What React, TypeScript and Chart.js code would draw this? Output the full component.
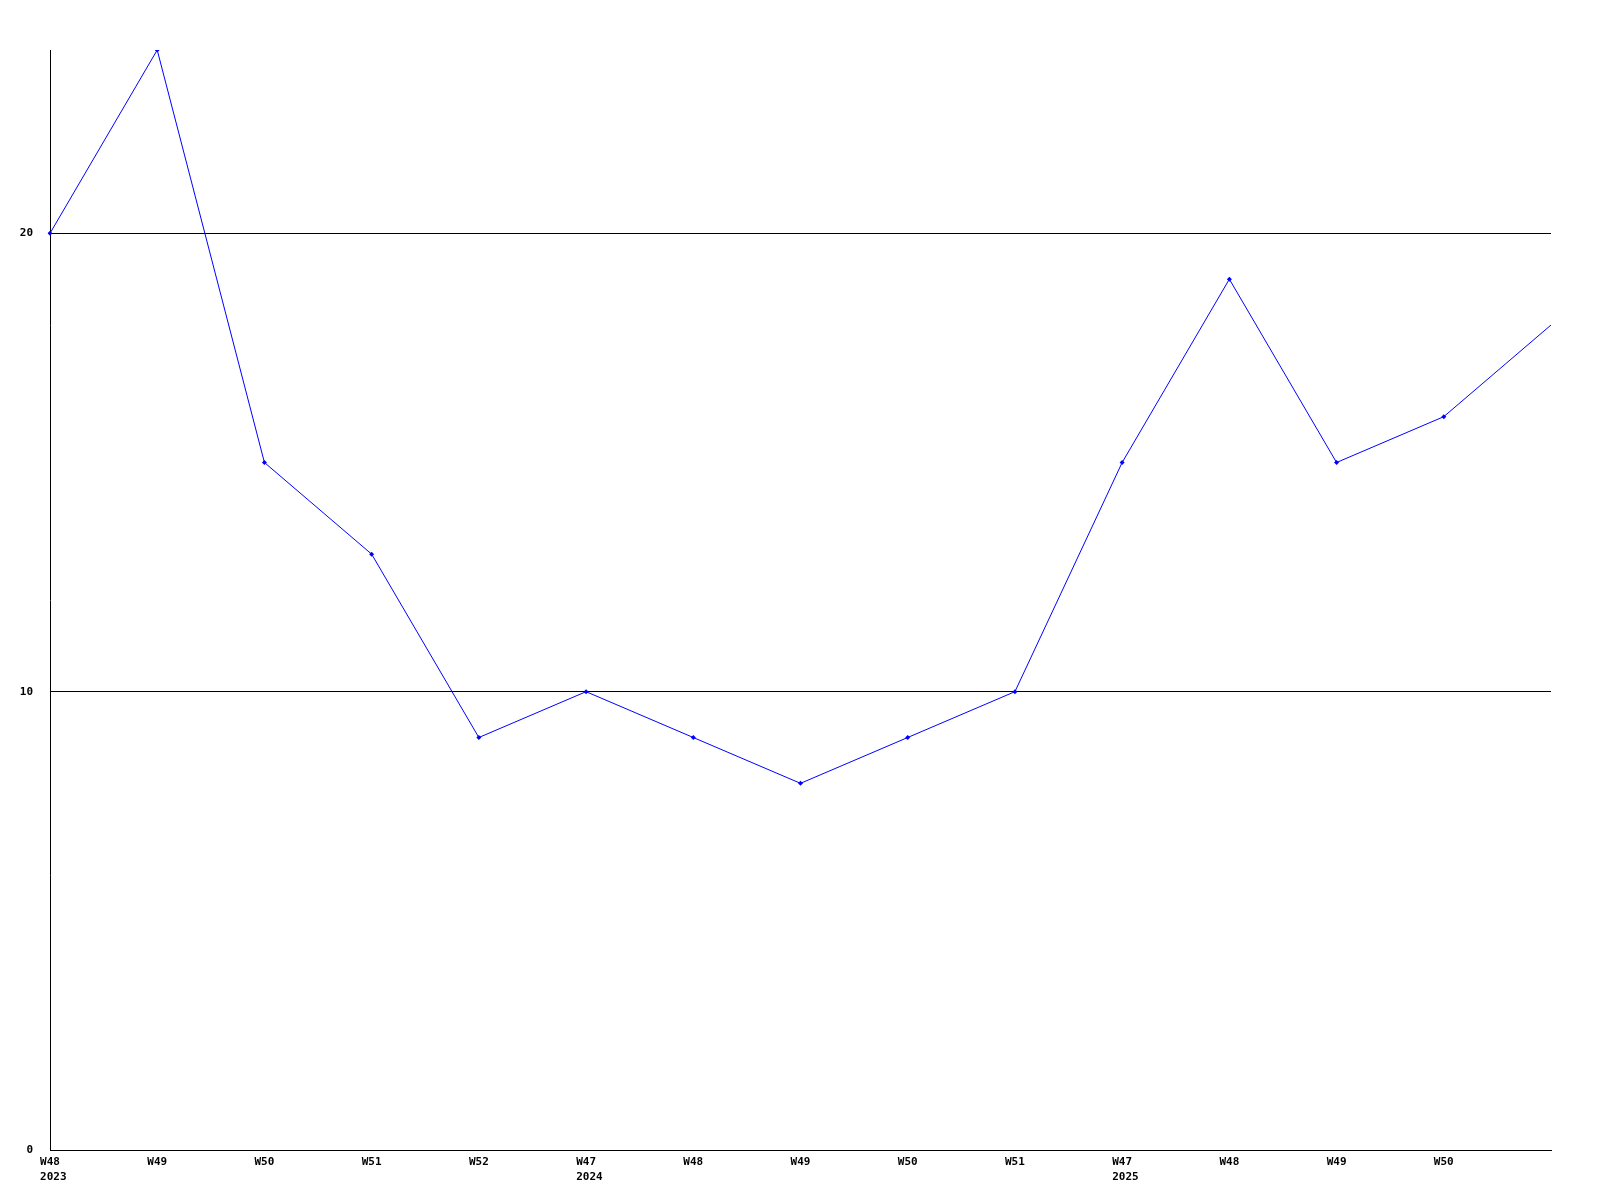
import React, { useEffect, useRef } from "react";
import { Chart, registerables } from "chart.js";

Chart.register(...registerables);

const weekLabels = ["W48", "W49", "W50", "W51", "W52", "W47", "W48", "W49", "W50", "W51", "W47", "W48", "W49", "W50", ""];
const yearLabels = ["2023", "", "", "", "", "2024", "", "", "", "", "2025", "", "", "", ""];
const values = [20, 24, 15, 13, 9, 10, 9, 8, 9, 10, 15, 19, 15, 16, 18];
const yTicks = [0, 10, 20];

const FONT = "bold 11px 'DejaVu Sans Mono', monospace";

export default function App() {
  const ref = useRef<HTMLCanvasElement | null>(null);
  useEffect(() => {
    if (!ref.current) return;
    const labelPlugin = {
      id: "xlabels",
      afterDraw(chart: any) {
        const ctx = chart.ctx;
        const xs = chart.scales.x;
        const bottom = chart.chartArea.bottom;
        ctx.save();
        ctx.font = FONT;
        ctx.fillStyle = "#000";
        ctx.textBaseline = "middle";
        weekLabels.forEach((w, i) => {
          const x = xs.getPixelForValue(i);
          if (w) {
            ctx.textAlign = "center";
            ctx.fillText(w, x, bottom + 12);
          }
          const yr = yearLabels[i];
          if (yr) {
            const left = x - ctx.measureText(w).width / 2;
            ctx.textAlign = "left";
            ctx.fillText(yr, left, bottom + 27);
          }
        });
        ctx.restore();
      },
    };
    const radii = values.map((_, i) => (i === values.length - 1 ? 0 : 2.5));
    const chart = new Chart(ref.current, {
      type: "line",
      data: {
        labels: weekLabels.map((w, i) => w + i),
        datasets: [
          {
            data: values,
            borderColor: "#0000ff",
            backgroundColor: "#0000ff",
            borderWidth: 1,
            pointRadius: radii,
            pointHoverRadius: radii,
            pointStyle: "rectRot",
            pointBorderWidth: 0,
            tension: 0,
            fill: false,
          },
        ],
      },
      options: {
        animation: false,
        responsive: false,
        maintainAspectRatio: false,
        layout: { padding: { top: 50, right: 49, left: 0, bottom: 0 } },
        plugins: { legend: { display: false }, tooltip: { enabled: false } },
        scales: {
          x: {
            type: "category",
            offset: false,
            grid: { display: false, drawTicks: false },
            border: { display: true, color: "#000", width: 1 },
            ticks: { display: false },
            afterFit: (s: any) => {
              s.height = 50;
            },
          },
          y: {
            min: 0,
            max: 24,
            grid: { display: true, color: "#000", lineWidth: 1, drawTicks: false },
            border: { display: true, color: "#000", width: 1 },
            ticks: {
              padding: 17,
              color: "#000",
              font: { family: "'DejaVu Sans Mono', monospace", size: 11, weight: "bold" },
            },
            afterBuildTicks: (s: any) => {
              s.ticks = yTicks.map((v) => ({ value: v }));
            },
            afterFit: (s: any) => {
              s.width = 50;
            },
          },
        },
      },
      plugins: [labelPlugin],
    });
    return () => chart.destroy();
  }, []);
  return (
    <div style={{ position: "fixed", left: 0, top: 0, width: 1600, height: 1200, background: "#fff" }}>
      <canvas ref={ref} width={1600} height={1200} style={{ width: 1600, height: 1200 }} />
    </div>
  );
}
